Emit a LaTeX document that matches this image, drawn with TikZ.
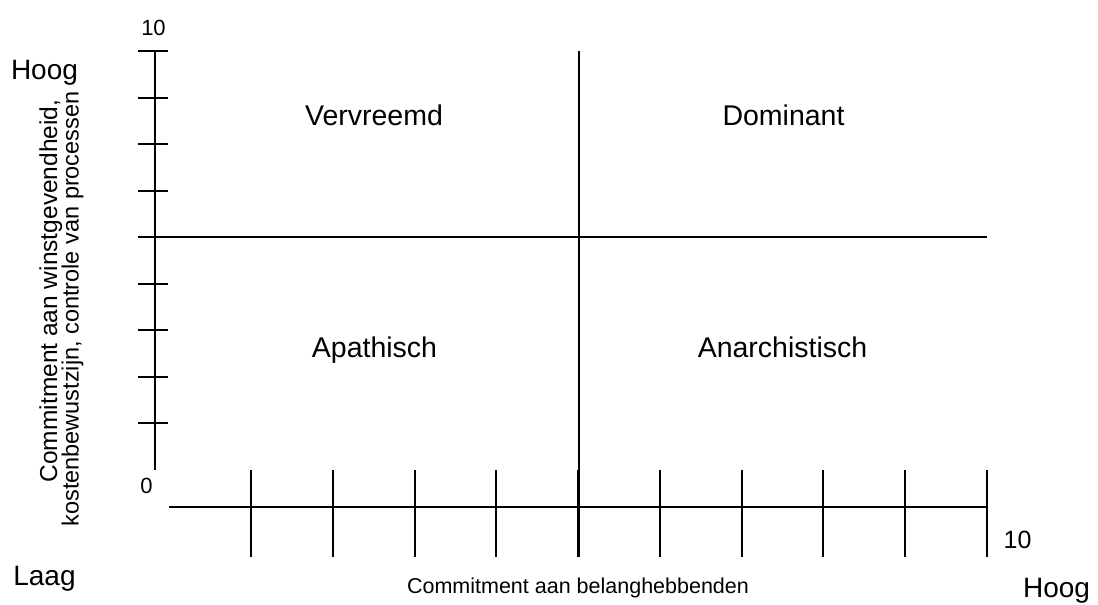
\documentclass[tikz,border=0pt]{standalone}
\usepackage{fontspec}
\setmainfont{Liberation Sans}
\begin{document}
\begin{tikzpicture}[x=1pt, y=-1pt,
  axisline/.style={line width=2pt, line cap=butt},
  gridline/.style={line width=2pt},
  quadlabel/.style={font=\fontsize{28.5}{34}\selectfont, anchor=base, inner sep=0pt},
  endlabel/.style={font=\fontsize{28}{34}\selectfont, anchor=base, inner sep=0pt},
  numlabel/.style={font=\fontsize{22}{26}\selectfont, anchor=base, inner sep=0pt},
  axislabel/.style={font=\fontsize{21.5}{26}\selectfont, anchor=base, inner sep=0pt},
  ylabel/.style={anchor=base, inner sep=0pt, rotate=90}]
\useasboundingbox (0,0) rectangle (1098,605);

% vertical axis with its ticks
\coordinate (ytop) at (155,51);
\coordinate (ybot) at (155,470);
\draw[axisline] (ytop) -- (ybot);
\foreach \k in {0,...,8} {
  \draw[axisline] (138,{51+46.56*\k}) -- (168,{51+46.56*\k});
}

% horizontal axis with its ticks
\coordinate (xleft) at (169,507);
\coordinate (xright) at (987,507);
\draw[axisline] (xleft) -- (xright);
\foreach \k in {0,...,9} {
  \draw[axisline] ({251+81.78*\k},470) -- ({251+81.78*\k},557);
}

% quadrant dividers
\coordinate (midtop) at (578.5,51);
\coordinate (midbot) at (578.5,557);
\coordinate (midleft) at (138,237.2);
\coordinate (midright) at (987,237.2);
\draw[gridline] (midtop) -- (midbot);
\draw[gridline] (midleft) -- (midright);

% quadrant names
\node[quadlabel] (vervreemd) at (374,125) {Vervreemd};
\node[quadlabel] (dominant) at (783.5,125) {Dominant};
\node[quadlabel] (apathisch) at (374.5,357) {Apathisch};
\node[quadlabel] (anarchistisch) at (782.5,357.5) {Anarchistisch};

% scale values
\node[numlabel] (ymax) at (153.5,35) {10};
\node[numlabel] (zero) at (146.5,493) {0};
\node[font=\fontsize{25}{30}\selectfont, anchor=base, inner sep=0pt] (xmax) at (1017.5,548) {10};

% ends of the scales
\node[endlabel] (hoogy) at (44.5,79) {Hoog};
\node[endlabel] (laag) at (44.5,585) {Laag};
\node[endlabel] (hoogx) at (1056.5,597) {Hoog};

% axis titles
\node[axislabel] (xtitle) at (578,593) {Commitment aan belanghebbenden};
\node[ylabel, font=\fontsize{24.5}{29}\selectfont] (ytitle1) at (57,291) {Commitment aan winstgevendheid,};
\node[ylabel, font=\fontsize{23.5}{29}\selectfont] (ytitle2) at (78.5,309) {kostenbewustzijn, controle van processen};
\end{tikzpicture}
\end{document}
